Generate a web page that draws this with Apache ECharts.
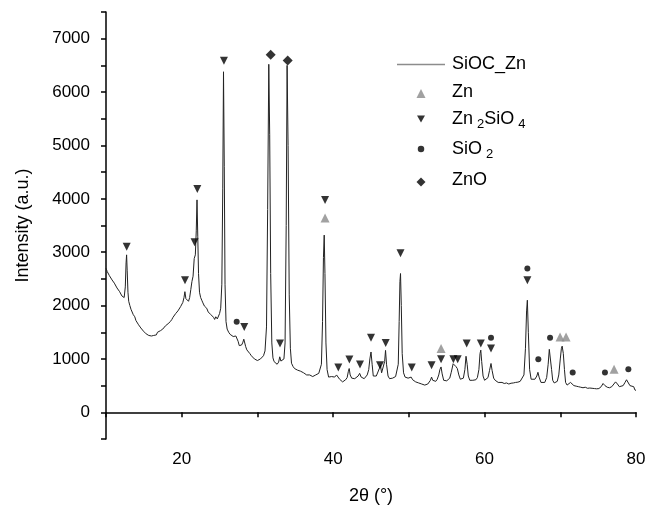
<!DOCTYPE html>
<html>
<head>
<meta charset="utf-8">
<title>SiOC_Zn XRD</title>
<script src="https://cdn.jsdelivr.net/npm/echarts@6/dist/echarts.min.js"></script>
<style>
    html, body { margin: 0; padding: 0; background: #fff; }
    #chart { width: 656px; height: 520px; }
</style>
</head>
<body>
<div id="chart"></div>
<script>
// XRD 曲线 [2θ, 强度]
var xrdData = [
    [10.0, 2700], [10.15, 2640], [10.3, 2660], [10.45, 2560], [10.6, 2590], [10.8, 2480], [10.95, 2500],
    [11.1, 2420], [11.3, 2400], [11.45, 2330], [11.6, 2350], [11.8, 2260], [11.95, 2280], [12.1, 2180],
    [12.25, 2200], [12.4, 2150], [12.55, 2350], [12.65, 2800], [12.72, 2950], [12.8, 2650], [12.9, 2250],
    [13.0, 2080], [13.15, 2000], [13.3, 1930], [13.45, 1880], [13.6, 1830], [13.8, 1790], [13.95, 1720],
    [14.1, 1700], [14.3, 1640], [14.45, 1620], [14.6, 1580], [14.8, 1560], [14.95, 1520], [15.1, 1500],
    [15.3, 1470], [15.5, 1480], [15.65, 1440], [15.8, 1450], [16.0, 1430], [16.15, 1460], [16.3, 1440],
    [16.5, 1470], [16.65, 1450], [16.8, 1500], [17.0, 1480], [17.2, 1530], [17.35, 1510], [17.5, 1560],
    [17.7, 1580], [17.85, 1620], [18.0, 1600], [18.2, 1660], [18.35, 1690], [18.5, 1700], [18.7, 1740],
    [18.85, 1780], [19.0, 1790], [19.2, 1850], [19.35, 1870], [19.5, 1900], [19.7, 1930], [19.85, 1980],
    [20.0, 1990], [20.15, 2060], [20.3, 2150], [20.42, 2260], [20.55, 2130], [20.75, 2100], [20.9, 2080],
    [21.05, 2150], [21.2, 2300], [21.35, 2450], [21.5, 2550], [21.65, 2880], [21.8, 2950], [21.92, 3400],
    [22.02, 3980], [22.12, 3300], [22.22, 2600], [22.35, 2250], [22.5, 2150], [22.65, 2100], [22.8, 2050],
    [23.0, 1990], [23.15, 1960], [23.3, 1950], [23.5, 1880], [23.7, 1860], [23.85, 1830], [24.0, 1800],
    [24.2, 1780], [24.35, 1740], [24.5, 1790], [24.7, 1750], [24.85, 1780], [25.0, 1850], [25.15, 1950],
    [25.3, 2400], [25.42, 4200], [25.52, 6380], [25.62, 4600], [25.72, 2400], [25.85, 1700], [26.0, 1560],
    [26.2, 1500], [26.4, 1460], [26.6, 1440], [26.8, 1420], [27.0, 1400], [27.15, 1430], [27.3, 1450],
    [27.45, 1330], [27.6, 1250], [27.75, 1220], [27.9, 1260], [28.05, 1300], [28.2, 1370], [28.3, 1360],
    [28.45, 1230], [28.6, 1170], [28.8, 1150], [29.0, 1100], [29.2, 1060], [29.4, 1040], [29.6, 1000],
    [29.8, 990], [30.0, 970], [30.2, 990], [30.4, 1000], [30.6, 1020], [30.8, 1060], [31.0, 1150],
    [31.2, 1600], [31.35, 3800], [31.5, 6520], [31.62, 5200], [31.75, 2600], [31.9, 1300], [32.05, 1020],
    [32.2, 950], [32.4, 920], [32.6, 900], [32.8, 940], [32.95, 1040], [33.1, 960], [33.3, 930],
    [33.5, 1000], [33.65, 1300], [33.8, 3500], [33.92, 6500], [34.05, 5000], [34.2, 2200], [34.35, 1200],
    [34.5, 920], [34.7, 860], [34.9, 820], [35.1, 810], [35.3, 790], [35.5, 780], [35.7, 770],
    [35.9, 750], [36.1, 740], [36.3, 730], [36.5, 700], [36.7, 690], [36.9, 700], [37.1, 680],
    [37.3, 670], [37.5, 690], [37.7, 700], [37.9, 720], [38.1, 730], [38.3, 760], [38.45, 900],
    [38.6, 1700], [38.72, 2900], [38.82, 3320], [38.92, 2600], [39.05, 1300], [39.2, 800], [39.4, 660],
    [39.6, 640], [39.8, 670], [40.0, 640], [40.2, 660], [40.45, 700], [40.65, 720], [40.85, 620],
    [41.05, 600], [41.25, 570], [41.45, 590], [41.65, 610], [41.85, 650], [42.0, 760], [42.12, 820],
    [42.25, 700], [42.45, 640], [42.65, 620], [42.85, 630], [43.05, 650], [43.3, 680], [43.5, 730],
    [43.7, 660], [43.9, 640], [44.1, 630], [44.3, 650], [44.5, 700], [44.7, 800], [44.85, 1000],
    [45.0, 1130], [45.15, 900], [45.3, 680], [45.5, 650], [45.7, 680], [45.9, 700], [46.1, 820],
    [46.25, 880], [46.4, 740], [46.6, 760], [46.8, 950], [46.92, 1160], [47.05, 900], [47.25, 680],
    [47.45, 630], [47.65, 620], [47.85, 640], [48.05, 650], [48.25, 670], [48.45, 700], [48.6, 900],
    [48.72, 1700], [48.82, 2450], [48.9, 2600], [49.0, 2000], [49.12, 1100], [49.3, 740], [49.5, 660],
    [49.7, 650], [49.9, 640], [50.1, 620], [50.3, 660], [50.5, 610], [50.7, 590], [50.9, 570],
    [51.1, 560], [51.3, 550], [51.5, 540], [51.7, 530], [51.9, 520], [52.1, 510], [52.3, 520],
    [52.5, 530], [52.7, 560], [52.85, 600], [53.0, 660], [53.15, 600], [53.35, 570], [53.55, 580],
    [53.75, 620], [53.95, 700], [54.1, 800], [54.25, 850], [54.4, 720], [54.6, 600], [54.8, 570],
    [55.0, 590], [55.2, 620], [55.4, 640], [55.6, 750], [55.85, 910], [56.0, 910], [56.2, 860],
    [56.4, 820], [56.6, 700], [56.8, 620], [57.0, 600], [57.2, 640], [57.4, 800], [57.55, 1050],
    [57.7, 900], [57.85, 680], [58.05, 600], [58.25, 590], [58.45, 600], [58.65, 600], [58.85, 610],
    [59.05, 650], [59.25, 800], [59.4, 1100], [59.5, 1165], [59.62, 950], [59.8, 680], [60.0, 600],
    [60.2, 610], [60.45, 650], [60.65, 780], [60.85, 915], [61.0, 780], [61.2, 640], [61.4, 600],
    [61.6, 580], [61.8, 560], [62.0, 540], [62.3, 560], [62.6, 540], [62.9, 550], [63.2, 530],
    [63.5, 545], [63.8, 550], [64.1, 560], [64.4, 565], [64.7, 580], [64.95, 600], [65.2, 700],
    [65.4, 1200], [65.55, 1900], [65.65, 2100], [65.78, 1500], [65.95, 800], [66.15, 620], [66.4, 610],
    [66.65, 620], [66.9, 680], [67.05, 750], [67.2, 660], [67.45, 560], [67.7, 540], [67.95, 560],
    [68.2, 650], [68.4, 900], [68.55, 1180], [68.7, 1150], [68.85, 800], [69.0, 600], [69.2, 550],
    [69.4, 540], [69.6, 580], [69.8, 700], [70.0, 1000], [70.15, 1200], [70.25, 1240], [70.4, 1100],
    [70.55, 800], [70.7, 560], [70.9, 510], [71.1, 520], [71.35, 560], [71.55, 540], [71.8, 500],
    [72.1, 490], [72.4, 480], [72.7, 470], [73.0, 460], [73.3, 470], [73.6, 450], [73.9, 455],
    [74.2, 450], [74.5, 445], [74.8, 440], [75.1, 445], [75.4, 480], [75.65, 540], [75.9, 500],
    [76.2, 470], [76.5, 460], [76.8, 480], [77.05, 510], [77.3, 570], [77.55, 530], [77.8, 480],
    [78.05, 470], [78.3, 500], [78.55, 560], [78.75, 610], [78.95, 580], [79.2, 500], [79.45, 470],
    [79.7, 480], [79.85, 420], [80.0, 410]
];

// 物相标记位置 [2θ, 高度]
var znMarks = [[38.93, 3640], [54.25, 1195], [69.97, 1410], [70.76, 1410], [77.1, 805]];
var zn2sio4Marks = [
    [12.73, 3100], [20.43, 2475], [21.7, 3185], [22.06, 4185], [25.58, 6585], [28.26, 1600],
    [32.98, 1290], [38.93, 3980], [40.68, 840], [42.14, 990], [43.55, 895], [45.0, 1395],
    [46.19, 880], [46.94, 1300], [48.9, 2980], [50.38, 840], [53.0, 880], [54.25, 995],
    [55.88, 995], [56.45, 995], [57.64, 1290], [59.5, 1290], [60.85, 1195], [65.65, 2475]
];
var sio2Marks = [[27.26, 1695], [60.85, 1395], [65.65, 2695], [67.1, 995], [68.65, 1395], [71.64, 745], [75.9, 745], [78.99, 805]];
var znoMarks = [[31.75, 6700], [34.0, 6590]];

var seriesNames = ['SiOC_Zn', 'Zn', 'Zn2SiO4', 'SiO2', 'ZnO'];

var FONT = 'Liberation Sans, Arial, sans-serif';

var chartDom = document.getElementById('chart');
var myChart = echarts.init(chartDom, null, { renderer: 'canvas' });

// 图例里的下标
function legendText(name) {
    if (name == 'Zn2SiO4') return 'Zn{s|2}SiO{s|4}';
    if (name == 'SiO2') return 'SiO{s|2}';
    return name;
}

// 每个标记单独一个图例，图标大小可以不同
function markLegend(name, top, size, icon) {
    var item = { name: name };
    if (icon) item.icon = icon;
    return {
        data: [item],
        left: 421 - size / 2,
        top: top,
        padding: 0,
        itemWidth: size,
        itemHeight: size,
        formatter: legendText,
        textStyle: {
            fontFamily: FONT,
            fontSize: 18,
            color: '#000',
            height: 21,
            padding: [0, 0, 0, 31 - size / 2 - 5],
            rich: {
                s: { fontFamily: FONT, fontSize: 13, color: '#000', padding: [9, 0, 0, 4] }
            }
        }
    };
}

var option = {
    animation: false,
    backgroundColor: '#fff',
    grid: {
        left: 106,
        right: 20,
        top: 12,
        bottom: 81
    },
    legend: [{
        // 曲线图例，只画一条灰线
        data: [{ name: seriesNames[0], icon: 'rect', itemStyle: { color: '#8c8c8c' } }],
        left: 397,
        top: 55.5,
        padding: 0,
        itemWidth: 48,
        itemHeight: 1.5,
        textStyle: { fontFamily: FONT, fontSize: 18, color: '#000', height: 21, padding: [0, 0, 0, 2] }
    },
        markLegend('Zn', 83, 9),
        markLegend('Zn2SiO4', 110.5, 8, 'path://M0,0 L10,0 L5,9 Z'),
        markLegend('SiO2', 140.5, 6.5),
        markLegend('ZnO', 171.5, 9)
    ],
    xAxis: {
        type: 'value',
        min: 10,
        max: 80,
        interval: 10,
        name: '2θ (°)',
        nameLocation: 'middle',
        nameGap: 48,
        nameTextStyle: { fontFamily: FONT, fontSize: 18, color: '#000' },
        axisLine: { lineStyle: { color: '#000', width: 1.5 } },
        axisTick: { inside: false, length: 5, lineStyle: { color: '#000', width: 1.5 } },
        axisLabel: {
            margin: 12,
            fontFamily: FONT,
            fontSize: 17,
            color: '#000',
            formatter: function(v) { return v % 20 == 0 ? v : ''; }
        },
        splitLine: { show: false }
    },
    yAxis: {
        type: 'value',
        min: -500,
        max: 7500,
        interval: 500,
        name: 'Intensity (a.u.)',
        nameLocation: 'middle',
        nameGap: 74,
        nameTextStyle: { fontFamily: FONT, fontSize: 18, color: '#000' },
        axisLine: { show: true, lineStyle: { color: '#000', width: 1.5 } },
        axisTick: { show: true, inside: false, length: 5, lineStyle: { color: '#000', width: 1.5 } },
        axisLabel: {
            margin: 16,
            fontFamily: FONT,
            fontSize: 17,
            color: '#000',
            formatter: function(v) { return (v >= 0 && v % 1000 == 0) ? v : ''; }
        },
        splitLine: { show: false }
    },
    series: [{
        name: 'SiOC_Zn',
        type: 'line',
        data: xrdData,
        symbol: 'none',
        smooth: false,
        lineStyle: { color: '#222', width: 1 },
        itemStyle: { color: '#222' },
        z: 2
    }, {
        name: 'Zn',
        type: 'scatter',
        data: znMarks,
        symbol: 'triangle',
        symbolSize: 9,
        itemStyle: { color: '#8a8a8a' },
        z: 3
    }, {
        name: 'Zn2SiO4',
        type: 'scatter',
        data: zn2sio4Marks,
        symbol: 'triangle',
        symbolRotate: 180,
        symbolSize: 8,
        itemStyle: { color: '#000' },
        z: 3
    }, {
        name: 'SiO2',
        type: 'scatter',
        data: sio2Marks,
        symbol: 'circle',
        symbolSize: 6,
        itemStyle: { color: '#000' },
        z: 3
    }, {
        name: 'ZnO',
        type: 'scatter',
        data: znoMarks,
        symbol: 'diamond',
        symbolSize: 10,
        itemStyle: { color: '#000' },
        z: 3
    }]
};

myChart.setOption(option);
</script>
</body>
</html>
